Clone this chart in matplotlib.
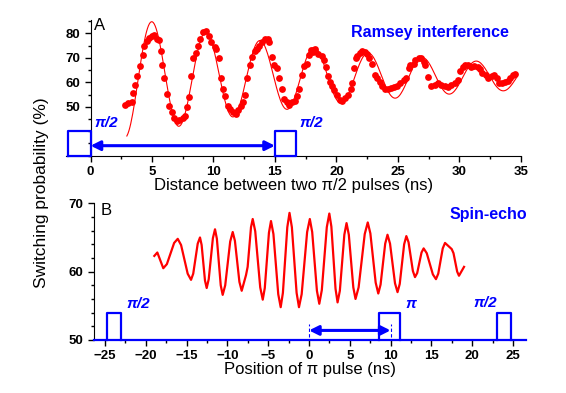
import numpy as np
import matplotlib
matplotlib.use('Agg')
import matplotlib.pyplot as plt
from matplotlib.ticker import MultipleLocator

plt.rcParams['font.family'] = ['Liberation Sans', 'DejaVu Sans']

# ---- panel A: Ramsey data (ns, %) ----
ramsey_t = [2.81, 3.08, 3.35, 3.48, 3.62, 3.81, 4.02, 4.24, 4.37, 4.57, 4.78, 4.97,
            5.18, 5.38, 5.59, 5.70, 5.83, 5.99, 6.19, 6.40, 6.59, 6.80, 7.00, 7.21,
            7.48, 7.67, 7.85, 8.02, 8.21, 8.34, 8.56, 8.74, 8.94, 9.15, 9.42, 9.64,
            9.83, 10.10, 10.23, 10.45, 10.58, 10.77, 10.96, 11.17, 11.37, 11.58, 11.80,
            11.98, 12.20, 12.39, 12.53, 12.75, 12.99, 13.15, 13.34, 13.52, 13.74, 13.96,
            14.20, 14.41, 14.55, 14.74, 14.96, 15.17, 15.36, 15.55, 15.77, 15.95, 16.17,
            16.39, 16.63, 16.76, 16.98, 17.20, 17.38, 17.57, 17.73, 17.93, 18.06, 18.28,
            18.54, 18.82, 19.00, 19.14, 19.33, 19.47, 19.63, 19.81, 20.08, 20.28, 20.49,
            20.70, 20.97, 21.16, 21.30, 21.44, 21.57, 21.70, 21.90, 22.10, 22.32, 22.51,
            22.65, 22.87, 23.13, 23.32, 23.51, 23.72, 23.94, 24.19, 24.41, 24.67, 24.94,
            25.21, 25.48, 25.67, 25.89, 26.02, 26.29, 26.43, 26.70, 26.92, 27.10, 27.24,
            27.45, 27.72, 27.99, 28.26, 28.53, 28.80, 29.07, 29.34, 29.61, 29.88, 30.07,
            30.26, 30.48, 30.69, 30.96, 31.23, 31.50, 31.69, 31.88, 32.15, 32.36, 32.63,
            32.85, 33.04, 33.23, 33.44, 33.72, 33.93, 34.12, 34.39, 34.57]
ramsey_p = [50.7, 51.4, 51.8, 55.7, 58.9, 62.7, 66.7, 71.1, 74.9, 76.8, 78.2, 79.0,
            79.3, 77.9, 77.2, 72.7, 67.0, 61.8, 55.2, 50.4, 47.7, 45.3, 44.2, 44.6,
            45.5, 46.3, 50.0, 54.1, 62.7, 70.0, 72.2, 74.9, 77.6, 80.6, 80.9, 79.0,
            76.3, 74.5, 73.6, 69.8, 61.6, 57.2, 54.5, 50.4, 49.1, 48.0, 46.9,
            48.7, 50.4, 51.8, 54.8, 61.8, 67.3, 70.4, 72.7, 73.8, 74.9, 76.3,
            77.6, 77.6, 76.5, 70.4, 67.3, 65.9, 61.8, 57.2, 53.1, 51.8, 50.7,
            51.8, 52.3, 54.5, 57.2, 63.2, 66.7, 67.7, 71.1, 73.1, 72.4, 73.8,
            71.4, 70.8, 69.1, 66.3, 62.7, 60.2, 58.6, 56.8, 54.8, 52.7, 52.3,
            53.4, 54.8, 57.2, 59.6, 65.7, 69.8, 70.8, 72.2, 72.7, 72.4, 71.4,
            70.0, 67.7, 62.9, 61.6, 60.2, 58.6, 57.2, 57.2, 57.8, 58.2, 58.6,
            59.6, 60.9, 61.8, 65.7, 67.0, 67.7, 69.1, 69.8, 70.0, 68.4, 67.0,
            62.2, 58.6, 59.1, 59.6, 58.9, 58.6, 58.2, 58.9, 59.6, 60.9, 64.6,
            66.3, 67.0, 67.0, 66.3, 66.7, 66.3, 65.4, 64.0, 62.9, 61.8, 62.7,
            63.2, 61.6, 59.6, 59.6, 60.2, 60.5, 61.6, 62.9, 63.6]

# damped-cosine fit drawn in panel A (parameters)
fit_offset, fit_amp, fit_decay, fit_period, fit_t0 = 62.3, 22.5, 21.0, 4.40, 5.0
fit_range = (2.95, 34.7)

# ---- panel B: spin-echo trace (ns, %) ----
echo_t = [-18.96, -18.59, -17.86, -17.42, -16.53, -16.09, -15.68, -14.87, -14.46,
          -14.19, -13.64, -13.36, -13.16, -12.75, -12.54, -12.29, -11.78, -11.52,
          -11.29, -10.82, -10.58, -10.27, -9.66, -9.35, -9.08, -8.53, -8.25, -7.72,
          -7.52, -7.11, -6.90, -6.59, -5.98, -5.67, -5.42, -4.91, -4.66, -4.36,
          -3.77, -3.47, -3.20, -2.66, -2.39, -2.10, -1.52, -1.23, -0.90, -0.23,
          0.10, 0.39, 0.97, 1.26, 1.57, 2.18, 2.49, 2.74, 3.25, 3.50, 3.78, 4.33,
          4.60, 4.88, 5.43, 5.70, 6.08, 6.83, 7.20, 7.52, 8.17, 8.49, 8.77, 9.34,
          9.62, 9.93, 10.54, 10.85, 11.12, 11.66, 11.93, 12.20, 12.73, 12.99, 13.26,
          13.79, 14.05, 14.43, 15.18, 15.56, 15.84, 16.39, 16.67, 17.49, 17.71,
          18.16, 18.38, 19.00]
echo_p = [62.3, 62.8, 60.5, 61.1, 64.2, 64.8, 63.9, 59.7, 58.8,
          59.7, 64.1, 65.0, 63.9, 58.7, 57.6, 58.9, 64.9, 66.2,
          64.8, 58.0, 56.6, 58.0, 64.4, 65.8, 64.5, 58.5, 57.2, 59.5,
          60.7, 66.5, 67.7, 65.9, 57.7, 55.9, 57.6, 65.7, 67.4, 65.5,
          56.7, 54.8, 56.9, 66.5, 68.6, 66.5, 56.9, 54.8, 56.7, 65.8,
          67.7, 65.8, 57.2, 55.3, 57.3, 66.5, 68.5, 66.6, 57.5, 55.5, 57.2, 65.4,
          67.1, 65.4, 57.7, 56.0, 57.7, 65.5, 67.2, 65.6, 58.4, 56.8, 58.1, 64.1,
          65.4, 64.1, 58.3, 57.0, 58.2, 64.0, 65.2, 64.3, 60.1, 59.2, 59.8,
          62.8, 63.4, 62.7, 59.6, 58.9, 59.7, 63.4, 64.2, 63.3, 62.7,
          60.0, 59.4, 60.7]

# pulse sequences (start, end) in ns
ramsey_pulses = [(-1.8, 0.0), (15.0, 16.7)]
echo_pulses = [(-24.8, -23.1), (8.6, 11.2), (23.0, 24.8)]

RED = '#ff0000'
BLUE = '#0000ff'

fig = plt.figure(figsize=(5.66, 3.93), dpi=100)
axA = fig.add_axes([0.1166, 0.6038, 0.8035, 0.3453])
axB = fig.add_axes([0.1661, 0.1349, 0.7633, 0.3478])

# panel A
tf = np.linspace(fit_range[0], fit_range[1], 400)
fit = fit_offset + fit_amp * np.exp(-(tf - fit_t0) / fit_decay) * np.cos(2 * np.pi * (tf - fit_t0) / fit_period)
axA.plot(tf, fit, color=RED, lw=0.8, zorder=2)
axA.scatter(ramsey_t, ramsey_p, s=24, color=RED, zorder=3, linewidths=0)

base_a, top_a = 30, 40.2
for t0, t1 in ramsey_pulses:
    axA.plot([t0, t0, t1, t1, t0], [base_a, top_a, top_a, base_a, base_a], color=BLUE,
             lw=1.6, clip_on=False, zorder=4)
axA.annotate('', xy=(15.0, 34.1), xytext=(0.0, 34.1),
             arrowprops=dict(arrowstyle='<|-|>', color=BLUE, lw=2.2, mutation_scale=14,
                             shrinkA=0, shrinkB=0))
axA.text(0.3, 43.5, 'π/2', color=BLUE, fontsize=11, fontweight='bold', style='italic',
         va='center', ha='left')
axA.text(17.0, 43.5, 'π/2', color=BLUE, fontsize=11, fontweight='bold', style='italic',
         va='center', ha='left')
axA.text(0.3, 83.3, 'A', fontsize=12, va='center', ha='left')
axA.text(27.6, 80.5, 'Ramsey interference', color=BLUE, fontsize=11.5, fontweight='bold',
         va='center', ha='center')

axA.set_xlim(-2, 35)
axA.set_ylim(30, 85.5)
axA.spines['left'].set_position(('data', 0))
axA.set_yticks([50, 60, 70, 80])
axA.yaxis.set_minor_locator(MultipleLocator(5))
axA.set_xticks(range(0, 36, 5))
axA.xaxis.set_minor_locator(MultipleLocator(2.5))
axA.set_xlabel('Distance between two π/2 pulses (ns)', fontsize=12, labelpad=0)

# panel B
axB.plot(echo_t, echo_p, color=RED, lw=1.6, zorder=3)
base_b, top_b = 50, 54.0
for t0, t1 in echo_pulses:
    axB.plot([t0, t0, t1, t1], [base_b, top_b, top_b, base_b], color=BLUE, lw=1.6,
             clip_on=False, zorder=4)
axB.annotate('', xy=(10.0, 51.4), xytext=(0.0, 51.4),
             arrowprops=dict(arrowstyle='<|-|>', color=BLUE, lw=2.2, mutation_scale=14,
                             shrinkA=0, shrinkB=0))
for xv in (0, 10):
    axB.plot([xv, xv], [50.5, 52.4], color=BLUE, lw=0.8, ls=(0, (3, 2)))
axB.text(-22.4, 55.3, 'π/2', color=BLUE, fontsize=11, fontweight='bold', style='italic',
         va='center', ha='left')
axB.text(11.8, 55.3, 'π', color=BLUE, fontsize=11, fontweight='bold', style='italic',
         va='center', ha='left')
axB.text(20.2, 55.4, 'π/2', color=BLUE, fontsize=11, fontweight='bold', style='italic',
         va='center', ha='left')
axB.text(-25.6, 69.0, 'B', fontsize=12, va='center', ha='left')
axB.text(26.7, 68.3, 'Spin-echo', color=BLUE, fontsize=11.5, fontweight='bold',
         va='center', ha='right')

axB.set_xlim(-26.35, 26.6)
axB.set_ylim(50, 70)
axB.set_yticks([50, 60, 70])
axB.yaxis.set_minor_locator(MultipleLocator(2))
axB.set_xticks(range(-25, 26, 5))
axB.xaxis.set_minor_locator(MultipleLocator(2.5))
axB.spines['bottom'].set_color(BLUE)
axB.spines['bottom'].set_linewidth(1.6)
axB.set_xlabel('Position of π pulse (ns)', fontsize=12, labelpad=0)

for ax in (axA, axB):
    ax.spines['top'].set_visible(False)
    ax.spines['right'].set_visible(False)
    ax.patch.set_alpha(0)
    ax.tick_params(which='major', length=4, width=1, labelsize=9.5, pad=3.5)
    ax.tick_params(which='minor', length=2.5, width=1)
    for lab in ax.get_xticklabels() + ax.get_yticklabels():
        lab.set_fontweight('bold')

fig.text(0.073, 0.51, 'Switching probability (%)', rotation=90, fontsize=12.5,
         va='center', ha='center')

fig.savefig('out.png', dpi=100)
